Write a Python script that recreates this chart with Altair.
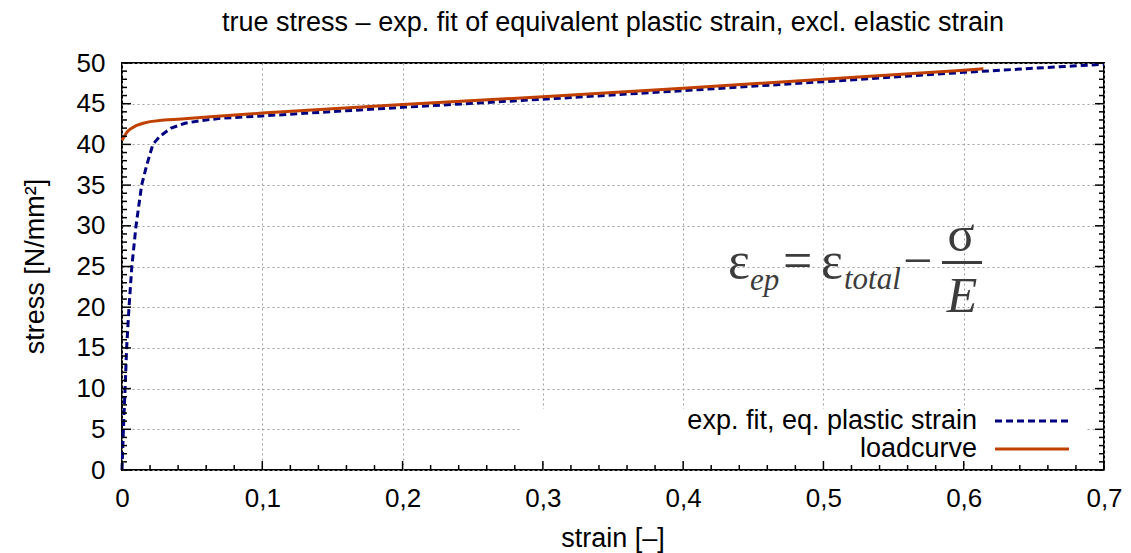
import altair as alt
import pandas as pd

# ---- data ----
fit_strain = [0, 0.001, 0.0022, 0.0033, 0.005, 0.007, 0.010, 0.014, 0.0177, 0.022, 0.027,
              0.035, 0.045, 0.055, 0.07, 0.1, 0.2, 0.3, 0.4, 0.5, 0.6, 0.7]
fit_stress = [0, 5, 10, 15, 20, 25, 30, 35, 37.5, 40, 41,
              42.0, 42.6, 42.9, 43.2, 43.5, 44.55, 45.55, 46.6, 47.7, 48.85, 49.85]

load_strain = [0, 0.002, 0.004, 0.006, 0.01, 0.015, 0.02, 0.03, 0.04, 0.063, 0.1,
               0.2, 0.3, 0.4, 0.5, 0.6, 0.614]
load_stress = [40.5, 41.1, 41.6, 41.9, 42.3, 42.6, 42.8, 43.0, 43.1, 43.4, 43.85,
               44.9, 45.85, 46.9, 48.0, 49.1, 49.3]

x_major = [0, 0.1, 0.2, 0.3, 0.4, 0.5, 0.6, 0.7]
x_minor = [round(i * 0.02, 2) for i in range(36) if i % 5 != 0]
y_major = [0, 5, 10, 15, 20, 25, 30, 35, 40, 45, 50]
y_minor = [i for i in range(51) if i % 5 != 0]

title_text = "true stress \u2013 exp. fit of equivalent plastic strain, excl. elastic strain"
x_title = "strain [\u2013]"
y_title = "stress [N/mm\u00b2]"
legend_labels = ["exp. fit, eq. plastic strain", "loadcurve"]

W, H = 982, 407
BLUE = "#000080"
ORANGE = "#c04000"
SANS = "Liberation Sans"
SERIF = "Liberation Serif"
FCOL = "#3c3c3c"

fit_df = pd.DataFrame({"strain": fit_strain, "stress": fit_stress})
load_df = pd.DataFrame({"strain": load_strain, "stress": load_stress})

xscale = alt.Scale(domain=[0, 0.7], nice=False, zero=False)
yscale = alt.Scale(domain=[0, 50], nice=False, zero=False)

xaxis = alt.Axis(values=x_major, labelExpr="replace(format(datum.value, '.1~f'), '.', ',')",
                 ticks=False, domain=False, grid=True, gridDash=[2, 3], gridColor="#a0a0a0",
                 gridWidth=1, labelFont=SANS, labelFontSize=26, labelColor="black",
                 labelPadding=15, title=None, labelFlush=False)
yaxis = alt.Axis(values=y_major, ticks=False, domain=False, grid=True, gridDash=[2, 3],
                 gridColor="#a0a0a0", gridWidth=1, labelFont=SANS, labelFontSize=26,
                 labelColor="black", labelPadding=17, title=None, labelFlush=False)

X = lambda: alt.X("strain:Q", scale=xscale, axis=xaxis)
Y = lambda: alt.Y("stress:Q", scale=yscale, axis=yaxis)

fit_line = alt.Chart(fit_df).mark_line(color=BLUE, strokeWidth=3, strokeDash=[7, 4]).encode(x=X(), y=Y())
load_line = alt.Chart(load_df).mark_line(color=ORANGE, strokeWidth=3).encode(x=X(), y=Y())

one = alt.Data(values=[{}])

legend_bg = alt.Chart(one).mark_rect(color="white").encode(
    x=alt.value(400), x2=alt.value(963), y=alt.value(346), y2=alt.value(400))

xmaj_df = pd.DataFrame({"strain": x_major})
xmin_df = pd.DataFrame({"strain": x_minor})
ymaj_df = pd.DataFrame({"stress": y_major})
ymin_df = pd.DataFrame({"stress": y_minor})

tick = dict(color="black", strokeWidth=1.5)
ticks = [
    alt.Chart(xmaj_df).mark_rule(**tick).encode(x=X(), y=alt.value(H), y2=alt.value(H - 9)),
    alt.Chart(xmin_df).mark_rule(**tick).encode(x=X(), y=alt.value(H), y2=alt.value(H - 5)),
    alt.Chart(ymaj_df).mark_rule(**tick).encode(y=Y(), x=alt.value(0), x2=alt.value(9)),
    alt.Chart(ymin_df).mark_rule(**tick).encode(y=Y(), x=alt.value(0), x2=alt.value(5)),
    alt.Chart(ymaj_df).mark_rule(**tick).encode(y=Y(), x=alt.value(W), x2=alt.value(W - 9)),
    alt.Chart(ymin_df).mark_rule(**tick).encode(y=Y(), x=alt.value(W), x2=alt.value(W - 5)),
]

def txt(s, x, y, size, font=SANS, align="left", baseline="alphabetic", style="normal",
        color="black", angle=0):
    kw = dict(font=font, fontSize=size, align=align, baseline=baseline, fontStyle=style, color=color)
    if angle:
        kw["angle"] = angle
    return alt.Chart(one).mark_text(**kw).encode(x=alt.value(x), y=alt.value(y), text=alt.value(s))

texts = [
    txt(title_text, W / 2, -32, 27, align="center"),
    txt(x_title, W / 2, 484, 27, align="center"),
    txt(y_title, -78, H / 2, 27, align="center", angle=270),
    txt(legend_labels[0], 855, 358, 27, align="right", baseline="middle"),
    txt(legend_labels[1], 855, 386, 27, align="right", baseline="middle"),
    # formula
    txt("\u03b5", 606, 215, 52, font=SERIF, color=FCOL),
    txt("ep", 628, 227, 31, font=SERIF, style="italic", color=FCOL),
    txt("=", 661, 215, 52, font=SERIF, color=FCOL),
    txt("\u03b5", 699, 215, 52, font=SERIF, color=FCOL),
    txt("total", 722, 226, 31, font=SERIF, style="italic", color=FCOL),
    txt("\u2212", 781, 215, 52, font=SERIF, color=FCOL),
    txt("\u03c3", 839, 188, 50, font=SERIF, align="center", color=FCOL),
    txt("E", 840, 249, 50, font=SERIF, align="center", style="italic", color=FCOL),
]

frac_bar = alt.Chart(one).mark_rule(color=FCOL, strokeWidth=3).encode(
    x=alt.value(820), x2=alt.value(860), y=alt.value(199.5))

leg_fit = alt.Chart(one).mark_rule(color=BLUE, strokeWidth=3, strokeDash=[7, 4]).encode(
    x=alt.value(873), x2=alt.value(947), y=alt.value(358))
leg_load = alt.Chart(one).mark_rule(color=ORANGE, strokeWidth=3).encode(
    x=alt.value(873), x2=alt.value(947), y=alt.value(386))

chart = alt.layer(fit_line, load_line, legend_bg, *ticks, frac_bar, leg_fit, leg_load, *texts).properties(
    width=W, height=H,
    autosize=alt.AutoSizeParams(type="none"),
    padding={"left": 122, "top": 63, "right": 27, "bottom": 83},
    background="white",
).configure_view(stroke="black", strokeWidth=2)

chart.save("out.html", embed_options={"renderer": "svg", "actions": False})
